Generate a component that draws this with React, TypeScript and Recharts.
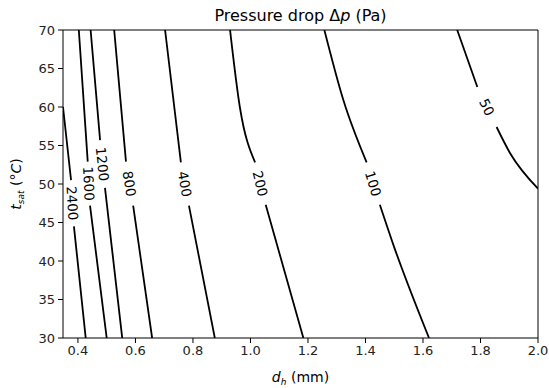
import React from 'react';
import { ComposedChart, Line, Scatter, XAxis, YAxis, ReferenceLine } from 'recharts';

const W = 549;
const H = 388;
const MARGIN = { top: 30, right: 11, bottom: 0, left: 0 };
const Y_AXIS_W = 63;
const X_AXIS_H = 50;
const PLOT_W = W - MARGIN.left - MARGIN.right - Y_AXIS_W;
const PLOT_H = H - MARGIN.top - MARGIN.bottom - X_AXIS_H;

const xTicks = [0.4, 0.6, 0.8, 1.0, 1.2, 1.4, 1.6, 1.8, 2.0];
const yTicks = [30, 35, 40, 45, 50, 55, 60, 65, 70];
const xDomain: [number, number] = [0.348, 2.0];
const yDomain: [number, number] = [30, 70];

const levels = ['2400', '1600', '1200', '800', '400', '200', '100', '50'];

// contour vertices (d_h in mm, t_sat in °C); null marks the label gap
const d2400 = [0.348, 0.376, null, 0.386, 0.427];
const t2400 = [60.0, 50.5, null, 44.5, 30.0];
const d1600 = [0.403, 0.434, null, 0.442, 0.500];
const t1600 = [70.0, 52.9, null, 47.2, 30.0];
const d1200 = [0.444, 0.477, null, 0.494, 0.554];
const t1200 = [70.0, 55.7, null, 49.5, 30.0];
const d800 = [0.526, 0.567, null, 0.592, 0.658];
const t800 = [70.0, 52.9, null, 47.2, 30.0];
const d400 = [0.703, 0.758, null, 0.786, 0.876];
const t400 = [70.0, 52.8, null, 47.2, 30.0];
const d200 = [0.929, 0.963, 1.016, null, 1.053, 1.184];
const t200 = [70.0, 60.0, 52.8, null, 47.3, 30.0];
const d100 = [1.257, 1.323, 1.404, null, 1.450, 1.497, 1.621];
const t100 = [70.0, 60.9, 52.8, null, 47.3, 42.1, 30.0];
const d50 = [1.719, 1.789, null, 1.856, 1.903, 2.0];
const t50 = [70.0, 62.6, null, 57.4, 54.0, 49.4];

const contourD = [d2400, d1600, d1200, d800, d400, d200, d100, d50];
const contourT = [t2400, t1600, t1200, t800, t400, t200, t100, t50];

const contours = contourD.map((ds, i) =>
  ds.map((d, j) => ({ d, t: contourT[i][j] }))
);

const pxPerD = PLOT_W / (xDomain[1] - xDomain[0]);
const pxPerT = PLOT_H / (yDomain[1] - yDomain[0]);

const labelData = contours.map((pts, i) => {
  const g = pts.findIndex((p) => p.t === null);
  const a = pts[g - 1];
  const b = pts[g + 1];
  const dx = ((b.d as number) - (a.d as number)) * pxPerD;
  const dy = ((a.t as number) - (b.t as number)) * pxPerT;
  const angle = (Math.atan2(dy, dx) * 180) / Math.PI;
  return {
    d: ((a.d as number) + (b.d as number)) / 2,
    t: ((a.t as number) + (b.t as number)) / 2,
    text: levels[i],
    angle,
  };
});

const FONT = 'DejaVu Sans, sans-serif';

const LabelShape = (props: any) => {
  const { cx, cy, payload } = props;
  return (
    <text
      x={cx}
      y={cy}
      transform={`rotate(${payload.angle}, ${cx}, ${cy})`}
      textAnchor="middle"
      dominantBaseline="central"
      fontFamily={FONT}
      fontSize={13.5}
      fill="#000"
    >
      {payload.text}
    </text>
  );
};

export default function App() {
  const plotLeft = MARGIN.left + Y_AXIS_W;
  const plotCx = plotLeft + PLOT_W / 2;
  return (
    <div style={{ position: 'absolute', left: 0, top: 0, width: W, height: H, background: '#fff' }}>
      <ComposedChart width={W} height={H} margin={MARGIN}>
        <XAxis
          type="number"
          dataKey="d"
          domain={xDomain}
          ticks={xTicks}
          allowDataOverflow
          height={X_AXIS_H}
          tickFormatter={(v: number) => v.toFixed(1)}
          tick={{ fontFamily: FONT, fontSize: 13, fill: '#222' }}
          tickSize={5}
          tickMargin={3}
          stroke="#000"
        />
        <YAxis
          type="number"
          dataKey="t"
          domain={yDomain}
          ticks={yTicks}
          allowDataOverflow
          width={Y_AXIS_W}
          tick={{ fontFamily: FONT, fontSize: 13, fill: '#222' }}
          tickSize={5}
          tickMargin={3}
          stroke="#000"
        />
        <ReferenceLine y={70} stroke="#000" strokeWidth={1} ifOverflow="extendDomain" />
        <ReferenceLine x={2.0} stroke="#000" strokeWidth={1} ifOverflow="extendDomain" />
        {contours.map((pts, i) => (
          <Line
            key={levels[i]}
            data={pts}
            dataKey="t"
            type="monotone"
            stroke="#000"
            strokeWidth={1.8}
            dot={false}
            activeDot={false}
            connectNulls={false}
            isAnimationActive={false}
          />
        ))}
        <Scatter data={labelData} dataKey="t" shape={LabelShape} isAnimationActive={false} />
      </ComposedChart>
      <svg
        width={W}
        height={H}
        style={{ position: 'absolute', left: 0, top: 0, pointerEvents: 'none' }}
      >
        <text x={plotCx} y={21} textAnchor="middle" fontFamily={FONT} fontSize={16} fill="#000">
          Pressure drop Δ<tspan fontStyle="italic">p</tspan> (Pa)
        </text>
        <text x={plotCx} y={382} textAnchor="middle" fontFamily={FONT} fontSize={14} fill="#000">
          <tspan fontStyle="italic">d</tspan>
          <tspan fontStyle="italic" fontSize={9} dy={3}>h</tspan>
          <tspan dy={-3}> (mm)</tspan>
        </text>
        <text
          x={0}
          y={0}
          transform={`translate(21, 184) rotate(-90)`}
          textAnchor="middle"
          fontFamily={FONT}
          fontSize={14}
          fill="#000"
        >
          <tspan fontStyle="italic">t</tspan>
          <tspan fontStyle="italic" fontSize={9} dy={3}>sat</tspan>
          <tspan dy={-3}> (°</tspan>
          <tspan fontStyle="italic">C</tspan>
          <tspan>)</tspan>
        </text>
      </svg>
    </div>
  );
}
